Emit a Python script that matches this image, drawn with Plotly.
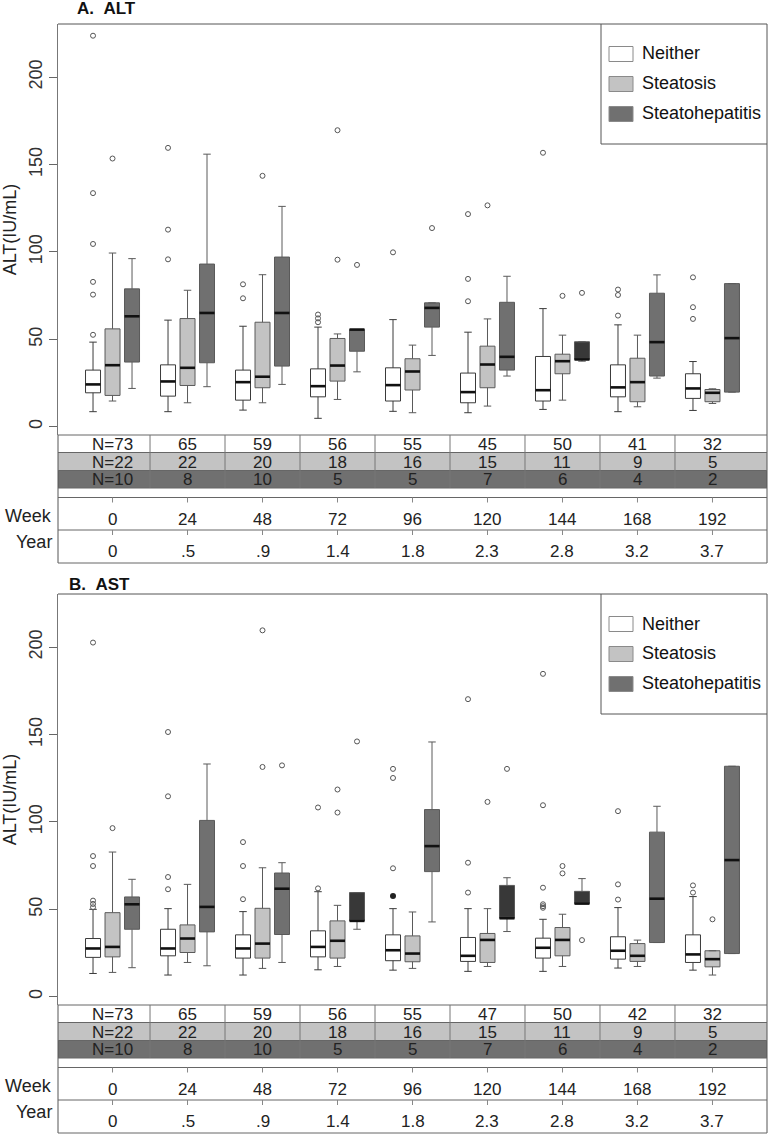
import plotly.graph_objects as go

W, H = 774, 1139

weeks = ["0", "24", "48", "72", "96", "120", "144", "168", "192"]
years = ["0", ".5", ".9", "1.4", "1.8", "2.3", "2.8", "3.2", "3.7"]
groups = ["Neither", "Steatosis", "Steatohepatitis"]

# sample sizes per visit
alt_n_neither = [73, 65, 59, 56, 55, 45, 50, 41, 32]
alt_n_steatosis = [22, 22, 20, 18, 16, 15, 11, 9, 5]
alt_n_sh = [10, 8, 10, 5, 5, 7, 6, 4, 2]
ast_n_neither = [73, 65, 59, 56, 55, 47, 50, 42, 32]
ast_n_steatosis = [22, 22, 20, 18, 16, 15, 11, 9, 5]
ast_n_sh = [10, 8, 10, 5, 5, 7, 6, 4, 2]

# ALT box statistics
alt_neither_q1 = [19.4, 17.5, 15.2, 17.1, 14.7, 13.7, 14.7, 17.1, 16.2]
alt_neither_med = [24.2, 25.9, 25.5, 23.2, 23.8, 19.8, 20.9, 22.5, 21.9]
alt_neither_q3 = [32.4, 35.4, 32.4, 33.1, 33.7, 30.7, 40.2, 35.4, 30.3]
alt_neither_lo = [8.6, 8.6, 9.5, 4.8, 8.8, 8.0, 9.9, 8.6, 9.3]
alt_neither_hi = [48.4, 61.0, 57.5, 57.0, 61.3, 54.1, 67.6, 58.3, 37.3]
alt_neither_out = [[52.6, 75.6, 82.9, 104.6, 133.7, 223.8], [95.8, 112.8, 159.6],
                   [73.5, 81.5], [59.8, 62.0, 64.2], [99.8], [71.8, 84.6, 121.7],
                   [156.8], [63.6, 75.4, 78.5], [61.7, 68.4, 85.5]]

alt_steatosis_q1 = [17.9, 23.6, 22.3, 26.1, 21.0, 22.3, 30.3, 14.3, 14.3]
alt_steatosis_med = [35.2, 33.7, 28.6, 35.0, 31.6, 35.6, 37.5, 25.5, 19.4]
alt_steatosis_q3 = [56.0, 61.9, 59.8, 50.5, 38.9, 46.1, 41.5, 39.2, 21.3]
alt_steatosis_lo = [14.7, 13.7, 13.7, 15.6, 8.0, 11.8, 15.2, 11.4, 13.3]
alt_steatosis_hi = [99.4, 78.1, 87.0, 53.1, 46.7, 61.7, 52.4, 52.4, 21.7]
alt_steatosis_out = [[153.5], [], [143.6], [95.6, 169.7], [], [126.7], [74.9], [], []]

alt_sh_q1 = [37.0, 36.6, 34.7, 43.2, 57.0, 32.4, 38.5, 29.0, 19.8]
alt_sh_med = [63.2, 65.1, 65.1, 55.6, 68.0, 40.0, 38.5, 48.4, 50.7]
alt_sh_q3 = [78.9, 93.1, 97.1, 55.6, 70.9, 71.2, 48.6, 76.4, 81.9]
alt_sh_lo = [21.9, 22.9, 24.2, 31.4, 40.8, 29.0, 37.5, 27.8, 19.8]
alt_sh_hi = [96.2, 156.0, 126.1, 55.6, 70.9, 86.1, 48.6, 86.9, 81.9]
alt_sh_out = [[], [], [], [92.6], [113.7], [], [76.6], [], []]
alt_sh_dark = [0, 0, 0, 0, 0, 0, 1, 0, 0]

# AST box statistics
ast_neither_q1 = [22.5, 23.4, 22.1, 22.8, 20.6, 20.2, 22.1, 21.5, 19.6]
ast_neither_med = [27.6, 27.6, 27.6, 28.5, 26.6, 23.4, 28.0, 26.3, 24.2]
ast_neither_q3 = [33.3, 38.6, 35.4, 37.7, 35.4, 33.9, 33.5, 34.3, 35.4]
ast_neither_lo = [13.3, 12.4, 12.4, 15.4, 15.2, 14.5, 14.5, 16.4, 15.2]
ast_neither_hi = [50.0, 50.4, 48.7, 60.1, 50.4, 50.4, 44.3, 51.0, 57.3]
ast_neither_out = [[51.2, 53.1, 55.0, 74.8, 80.5, 202.7], [61.5, 68.5, 114.7, 151.5],
                   [55.8, 74.8, 88.5], [62.0, 108.3], [73.5, 125.2, 130.4],
                   [59.6, 76.7, 170.3], [50.9, 51.8, 52.9, 62.4, 109.6, 184.8],
                   [55.6, 64.3, 106.2], [59.6, 63.7]]
ast_neither_solid = [[], [], [], [], [57.7], [], [], [], []]

ast_steatosis_q1 = [22.8, 25.3, 22.1, 22.1, 20.0, 19.6, 23.4, 20.2, 17.1]
ast_steatosis_med = [28.5, 33.3, 30.4, 32.0, 24.7, 32.5, 32.5, 23.4, 21.5]
ast_steatosis_q3 = [48.1, 41.1, 50.6, 43.4, 34.8, 36.2, 39.6, 30.4, 26.3]
ast_steatosis_lo = [13.9, 19.6, 16.2, 17.3, 16.2, 17.3, 17.3, 17.3, 12.4]
ast_steatosis_hi = [82.8, 64.3, 73.8, 52.3, 48.5, 50.4, 47.2, 32.4, 26.3]
ast_steatosis_out = [[96.5], [], [131.5, 209.7], [105.4, 118.6], [], [111.5],
                     [70.6, 74.8], [], [44.3]]

ast_sh_q1 = [38.6, 37.1, 35.6, 43.4, 71.6, 44.9, 53.3, 31.0, 24.7]
ast_sh_med = [52.9, 51.4, 61.8, 43.4, 86.2, 44.9, 53.3, 56.1, 78.2]
ast_sh_q3 = [57.1, 100.9, 70.8, 59.6, 107.1, 63.7, 60.3, 94.2, 131.9]
ast_sh_lo = [16.6, 17.7, 19.6, 38.6, 42.8, 37.3, 53.3, 31.0, 24.7]
ast_sh_hi = [67.2, 133.2, 76.7, 59.6, 145.8, 68.1, 67.6, 109.0, 131.9]
ast_sh_out = [[], [], [132.4], [146.1], [], [130.4], [32.4], [], []]
ast_sh_dark = [0, 0, 0, 1, 0, 1, 1, 0, 0]

FONT = "Liberation Sans, Arial, sans-serif"
fills = ["#ffffff", "#c3c3c3", "#707070"]
dark_fill = "#383838"
edge = ["#3a3a3a", "#5a5a5a", "#5a5a5a"]
offsets = [-0.26, 0.0, 0.26]
BOXW = 0.2


def py(y):
    return 1 - y / H


def px(x):
    return x / W


panels = [
    dict(title="A.&nbsp;&nbsp;ALT", tx=75, ty=9, dy=0, xa="x", ya="y",
         stats=[(alt_neither_q1, alt_neither_med, alt_neither_q3, alt_neither_lo, alt_neither_hi, alt_neither_out),
                (alt_steatosis_q1, alt_steatosis_med, alt_steatosis_q3, alt_steatosis_lo, alt_steatosis_hi, alt_steatosis_out),
                (alt_sh_q1, alt_sh_med, alt_sh_q3, alt_sh_lo, alt_sh_hi, alt_sh_out)],
         dark=alt_sh_dark, solid=None,
         counts=[alt_n_neither, alt_n_steatosis, alt_n_sh]),
    dict(title="B.&nbsp;&nbsp;AST", tx=67, ty=584, dy=570, xa="x2", ya="y2",
         stats=[(ast_neither_q1, ast_neither_med, ast_neither_q3, ast_neither_lo, ast_neither_hi, ast_neither_out),
                (ast_steatosis_q1, ast_steatosis_med, ast_steatosis_q3, ast_steatosis_lo, ast_steatosis_hi, ast_steatosis_out),
                (ast_sh_q1, ast_sh_med, ast_sh_q3, ast_sh_lo, ast_sh_hi, ast_sh_out)],
         dark=ast_sh_dark, solid=ast_neither_solid,
         counts=[ast_n_neither, ast_n_steatosis, ast_n_sh]),
]

fig = go.Figure()
shapes = []
annotations = []
LINE = dict(color="#555555", width=1)

for p in panels:
    xa, ya, dy = p["xa"], p["ya"], p["dy"]
    xr = "x" if xa == "x" else "x2"
    for gi, (q1, med, q3, lo, hi, out) in enumerate(p["stats"]):
        idx_all = list(range(len(weeks)))
        if gi == 2:
            sets = [([i for i in idx_all if not p["dark"][i]], fills[2]),
                    ([i for i in idx_all if p["dark"][i]], dark_fill)]
        else:
            sets = [(idx_all, fills[gi])]
        for idx, fc in sets:
            if not idx:
                continue
            fig.add_trace(go.Box(
                x=[i + offsets[gi] for i in idx],
                q1=[q1[i] for i in idx], median=[med[i] for i in idx],
                q3=[q3[i] for i in idx], lowerfence=[lo[i] for i in idx],
                upperfence=[hi[i] for i in idx],
                width=BOXW, whiskerwidth=0.5, fillcolor=fc,
                line=dict(color=edge[gi], width=1), boxpoints=False,
                showlegend=False, hoverinfo="skip", xaxis=xa, yaxis=ya))
        # medians as heavy black bars
        mx, my = [], []
        for i in range(len(weeks)):
            c = i + offsets[gi]
            mx += [c - BOXW / 2, c + BOXW / 2, None]
            my += [med[i], med[i], None]
        fig.add_trace(go.Scatter(x=mx, y=my, mode="lines",
                                 line=dict(color="#111111", width=2.6),
                                 showlegend=False, hoverinfo="skip", xaxis=xa, yaxis=ya))
        ox, oy = [], []
        for i, vals in enumerate(out):
            for v in vals:
                ox.append(i + offsets[gi])
                oy.append(v)
        fig.add_trace(go.Scatter(x=ox, y=oy, mode="markers",
                                 marker=dict(symbol="circle-open", size=5,
                                             color="#555555", line=dict(width=1)),
                                 showlegend=False, hoverinfo="skip", xaxis=xa, yaxis=ya))
    if p["solid"]:
        sx, sy = [], []
        for i, vals in enumerate(p["solid"]):
            for v in vals:
                sx.append(i + offsets[0])
                sy.append(v)
        fig.add_trace(go.Scatter(x=sx, y=sy, mode="markers",
                                 marker=dict(symbol="circle", size=6, color="#222222"),
                                 showlegend=False, hoverinfo="skip", xaxis=xa, yaxis=ya))

    # frame
    shapes.append(dict(type="line", xref="paper", yref="paper", x0=px(58), x1=px(767),
                       y0=py(24 + dy), y1=py(24 + dy), line=LINE))
    shapes.append(dict(type="line", xref="paper", yref="paper", x0=px(767), x1=px(767),
                       y0=py(24 + dy), y1=py(563 + dy), line=LINE))
    shapes.append(dict(type="line", xref="paper", yref="paper", x0=px(58), x1=px(58),
                       y0=py(435 + dy), y1=py(563 + dy), line=LINE))

    # count table
    rows = [(435, 452.5), (452.5, 470.5), (470.5, 488)]
    for r, (y0, y1) in enumerate(rows):
        shapes.append(dict(type="rect", xref="paper", yref="paper", x0=px(58), x1=px(767),
                           y0=py(y0 + dy), y1=py(y1 + dy), fillcolor=fills[r],
                           line=dict(width=0), layer="below"))
    for yl in [435, 452.5, 470.5, 488, 497.5, 530, 563]:
        shapes.append(dict(type="line", xref="paper", yref="paper", x0=px(58), x1=px(767),
                           y0=py(yl + dy), y1=py(yl + dy),
                           line=dict(color="#666666", width=1)))
    for i in range(len(weeks) - 1):
        shapes.append(dict(type="line", xref=xr, yref="paper", x0=i + 0.5, x1=i + 0.5,
                           y0=py(435 + dy), y1=py(488 + dy),
                           line=dict(color="#777777", width=1)))
    for i in range(len(weeks)):
        for yt in (497.5, 530):
            shapes.append(dict(type="line", xref=xr, yref="paper", x0=i, x1=i,
                               y0=py(yt + dy), y1=py(yt + 5 + dy),
                               line=dict(color="#888888", width=1)))
    row_y = [444.5, 462, 479.5]
    for r, cnt in enumerate(p["counts"]):
        for i, n in enumerate(cnt):
            annotations.append(dict(x=i, y=py(row_y[r] + dy), xref=xr, yref="paper",
                                    text=("N=%d" % n) if i == 0 else str(n), showarrow=False,
                                    font=dict(family=FONT, size=17, color="#222222"),
                                    xanchor="center", yanchor="middle"))
    for i in range(len(weeks)):
        annotations.append(dict(x=i, y=py(519 + dy), xref=xr, yref="paper", text=weeks[i],
                                showarrow=False, font=dict(family=FONT, size=17, color="#222222"),
                                xanchor="center", yanchor="middle"))
        annotations.append(dict(x=i, y=py(551.5 + dy), xref=xr, yref="paper", text=years[i],
                                showarrow=False, font=dict(family=FONT, size=17, color="#222222"),
                                xanchor="center", yanchor="middle"))
    annotations.append(dict(x=px(54), y=py(515.5 + dy), xref="paper", yref="paper", text="Week",
                            showarrow=False, font=dict(family=FONT, size=18, color="#222222"),
                            xanchor="right", yanchor="middle"))
    annotations.append(dict(x=px(54), y=py(542 + dy), xref="paper", yref="paper", text="Year",
                            showarrow=False, font=dict(family=FONT, size=18, color="#222222"),
                            xanchor="right", yanchor="middle"))

    # panel title
    annotations.append(dict(x=px(p["tx"]), y=py(p["ty"]), xref="paper", yref="paper",
                            text="<b>%s</b>" % p["title"], showarrow=False,
                            font=dict(family=FONT, size=17, color="#111111"),
                            xanchor="left", yanchor="middle"))

    # legend box
    shapes.append(dict(type="line", xref="paper", yref="paper", x0=px(601), x1=px(601),
                       y0=py(24 + dy), y1=py(144 + dy), line=LINE))
    shapes.append(dict(type="line", xref="paper", yref="paper", x0=px(601), x1=px(767),
                       y0=py(144 + dy), y1=py(144 + dy), line=LINE))
    for gi, name in enumerate(groups):
        yc = 54 + 30 * gi + dy
        shapes.append(dict(type="rect", xref="paper", yref="paper", x0=px(609), x1=px(633),
                           y0=py(yc - 7.5), y1=py(yc + 7.5), fillcolor=fills[gi],
                           line=dict(color="#8a8a8a", width=1)))
        annotations.append(dict(x=px(640), y=py(yc - 0.5), xref="paper", yref="paper", text=name,
                                showarrow=False, font=dict(family=FONT, size=18, color="#111111"),
                                xanchor="left", yanchor="middle"))

axis_common = dict(range=[-0.727, 8.727], showticklabels=False, showgrid=False,
                   zeroline=False, showline=False, ticks="", fixedrange=True)
yaxis_common = dict(range=[-4.75, 230.5], tickvals=[0, 50, 100, 150, 200], tickangle=-90,
                    ticks="outside", ticklen=8, tickcolor="#666666", showline=True,
                    linecolor="#777777", linewidth=1, showgrid=False, zeroline=False,
                    tickfont=dict(family=FONT, size=18, color="#333333"),
                    title=dict(text="ALT(IU/mL)", font=dict(family=FONT, size=18, color="#222222"),
                               standoff=6))

fig.update_layout(
    width=W, height=H,
    margin=dict(l=0, r=0, t=0, b=0),
    paper_bgcolor="white", plot_bgcolor="white",
    boxmode="overlay",
    showlegend=False,
    xaxis=dict(domain=[px(58), px(767)], anchor="y", **axis_common),
    xaxis2=dict(domain=[px(58), px(767)], anchor="y2", **axis_common),
    yaxis=dict(domain=[py(435), py(24)], anchor="x", **yaxis_common),
    yaxis2=dict(domain=[py(1005), py(594)], anchor="x2", **yaxis_common),
    shapes=shapes,
    annotations=annotations,
)

fig.write_html("out.html", config={"displayModeBar": False},
               post_script="document.body.style.margin='0px';")
